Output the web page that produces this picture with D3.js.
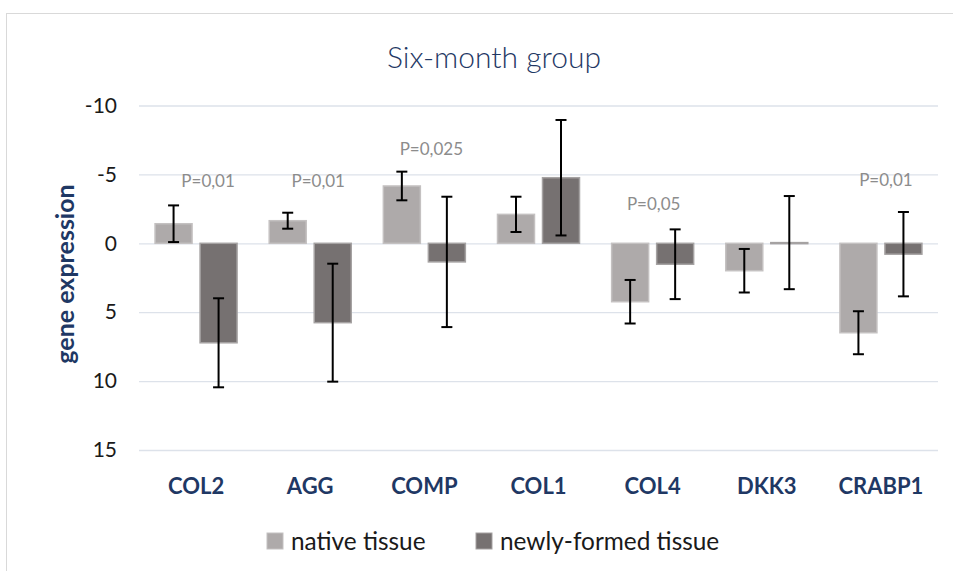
<!DOCTYPE html>
<html><head><meta charset="utf-8">
<script src="https://cdn.jsdelivr.net/npm/d3@7"></script>
<style>body{margin:0;background:#fff}svg{display:block}</style>
</head><body>
<svg id="c" width="953" height="571"></svg>
<script>
const categories = ["COL2","AGG","COMP","COL1","COL4","DKK3","CRABP1"];
const seriesNames = ["native tissue","newly-formed tissue"];
const nativeValues = [-1.42, -1.64, -4.16, -2.1, 4.24, 1.99, 6.49];
const nativeErrors = [1.33, 0.58, 1.04, 1.28, 1.58, 1.58, 1.56];
const newlyValues = [7.22, 5.76, 1.35, -4.76, 1.52, -0.05, 0.79];
const newlyErrors = [3.23, 4.28, 4.73, 4.19, 2.53, 3.38, 3.06];
const pLabels = ["P=0,01","P=0,01","P=0,025","","P=0,05","","P=0,01"];
const pLabelLevels = [-4.55, -4.55, -6.85, null, -2.85, null, -4.6];
const yTicks = [-10,-5,0,5,10,15];

const svg = d3.select("#c");
const font = "Lato, sans-serif";
const navy = "#1f3864";

svg.append("rect").attr("x",6.5).attr("y",13.5).attr("width",960).attr("height",600)
  .attr("fill","#fff").attr("stroke","#d9d9d9").attr("stroke-width",1);

const left = 139, right = 938;
const y = d3.scaleLinear().domain([-10,15]).range([105.5,450]);
const x = d3.scaleBand().domain(categories).range([left,right]).paddingInner(0).paddingOuter(0);
const xs = d3.scaleBand().domain(seriesNames).range([0,x.bandwidth()]).paddingInner(0.178).paddingOuter(0.357);

const yAxis = d3.axisLeft(y).tickValues(yTicks).tickSize(-(right-left)).tickFormat(d=>String(d));
const ga = svg.append("g").attr("transform",`translate(${left},0)`).call(yAxis);
ga.select(".domain").remove();
ga.selectAll(".tick line").attr("stroke","#dde2ea").attr("stroke-width",1.3);
ga.selectAll(".tick text").attr("x",-22).attr("font-family",font).attr("font-size",21).attr("fill","#1a1a1a");

const colors = {"native tissue":"#aeaaaa","newly-formed tissue":"#767171"};
const strokes = {"native tissue":"#c4c1c1","newly-formed tissue":"#a5a2a2"};
const data = [];
categories.forEach((c,i)=>{
  data.push({c, s:seriesNames[0], v:nativeValues[i], e:nativeErrors[i]});
  data.push({c, s:seriesNames[1], v:newlyValues[i], e:newlyErrors[i]});
});

svg.append("g").selectAll("rect").data(data).join("rect")
  .attr("x",d=>x(d.c)+xs(d.s))
  .attr("width",xs.bandwidth())
  .attr("y",d=>Math.min(y(d.v),y(0)))
  .attr("height",d=>Math.max(1,Math.abs(y(d.v)-y(0))))
  .attr("fill",d=>colors[d.s])
  .attr("stroke",d=>strokes[d.s]).attr("stroke-width",1.5);

const eg = svg.append("g").attr("stroke","#000").attr("stroke-width",2);
data.forEach(d=>{
  const cx = x(d.c)+xs(d.s)+xs.bandwidth()/2;
  const y1 = y(d.v-d.e), y2 = y(d.v+d.e);
  eg.append("line").attr("x1",cx).attr("x2",cx).attr("y1",y1).attr("y2",y2);
  eg.append("line").attr("x1",cx-5.5).attr("x2",cx+5.5).attr("y1",y1).attr("y2",y1);
  eg.append("line").attr("x1",cx-5.5).attr("x2",cx+5.5).attr("y1",y2).attr("y2",y2);
});

const pOffsets = [12,8,7,0,1,0,5];
svg.append("g").selectAll("text").data(categories.map((c,i)=>({c,t:pLabels[i],v:pLabelLevels[i],o:pOffsets[i]})).filter(d=>d.t))
  .join("text")
  .attr("x",d=>x(d.c)+x.bandwidth()/2+d.o)
  .attr("y",d=>y(d.v)).attr("dy","0.35em")
  .attr("text-anchor","middle").attr("font-family",font).attr("font-size",17).attr("fill","#8c8c8c")
  .text(d=>d.t);

svg.append("g").selectAll("text").data(categories).join("text")
  .attr("x",d=>x(d)+x.bandwidth()/2).attr("y",486).attr("dy","0.35em")
  .attr("text-anchor","middle").attr("font-family",font).attr("font-weight","bold")
  .attr("font-size",22).attr("fill",navy).text(d=>d);

svg.append("text").attr("transform","translate(65,274) rotate(-90)")
  .attr("text-anchor","middle").attr("dy","0.35em").attr("font-family",font).attr("font-weight","bold")
  .attr("font-size",25).attr("fill",navy).text("gene expression");

svg.append("text").attr("x",494).attr("y",57).attr("dy","0.35em").attr("text-anchor","middle")
  .attr("font-family",font).attr("font-weight",300).attr("font-size",30).attr("fill",navy).text("Six-month group");

const legX = [267, 476];
const lg = svg.append("g");
seriesNames.forEach((s,i)=>{
  lg.append("rect").attr("x",legX[i]).attr("y",533).attr("width",16).attr("height",16)
    .attr("fill",colors[s]).attr("stroke",strokes[s]).attr("stroke-width",1);
  lg.append("text").attr("x",legX[i]+24).attr("y",541).attr("dy","0.35em")
    .attr("font-family",font).attr("font-size",24.4).attr("fill","#1a1a1a").text(s);
});
</script>
</body></html>
